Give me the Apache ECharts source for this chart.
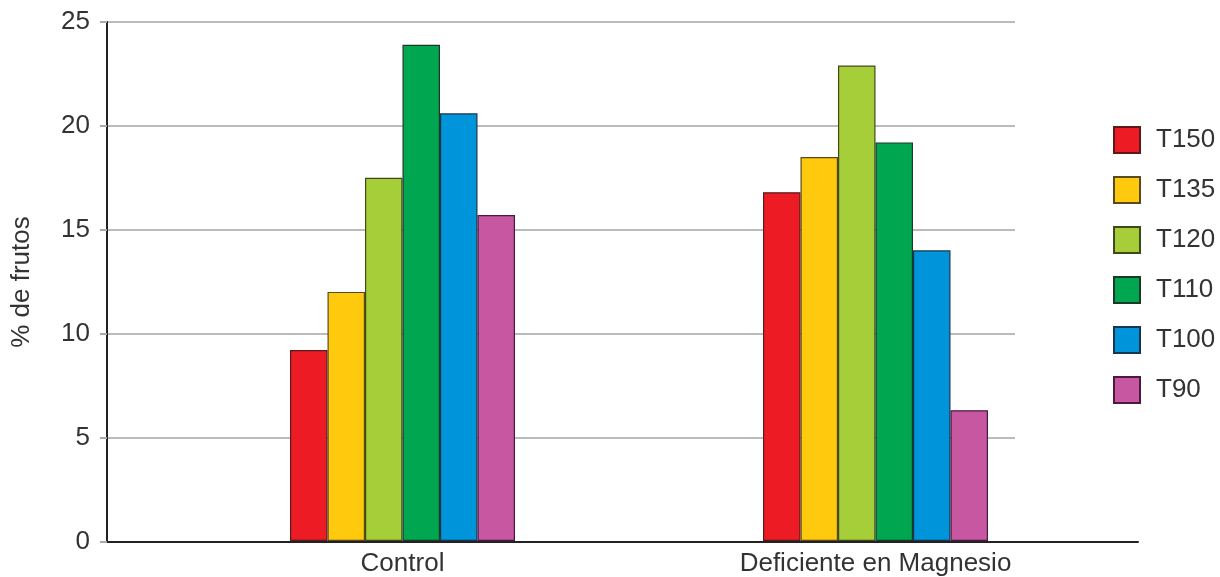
<!DOCTYPE html>
<html>
<head>
<meta charset="utf-8">
<script src="https://cdn.jsdelivr.net/npm/echarts@6/dist/echarts.min.js"></script>
<style>html,body{margin:0;padding:0;background:#fff}#c{width:1220px;height:577px}</style>
</head>
<body>
<div id="c"></div>
<script>
const categories = ['Control', 'Deficiente en Magnesio'];
const seriesNames = ['T150', 'T135', 'T120', 'T110', 'T100', 'T90'];
const T150 = [9.2, 16.8];
const T135 = [12.0, 18.5];
const T120 = [17.5, 22.9];
const T110 = [23.9, 19.2];
const T100 = [20.6, 14.0];
const T90 = [15.7, 6.3];
const yTicks = [0, 5, 10, 15, 20, 25];

const values = [T150, T135, T120, T110, T100, T90];
const colors = ['#ED1C24', '#FFC90E', '#A6CE39', '#00A650', '#0095DA', '#C657A0'];
const borders = ['#5a1a1a', '#5a4a1a', '#3e4a1a', '#1a3a25', '#1a3550', '#4a1a40'];
const font = 'Liberation Sans, Arial, sans-serif';

const chart = echarts.init(document.getElementById('c'), null, {renderer: 'canvas'});
const yMin = yTicks[0], yMax = yTicks[yTicks.length - 1];
const option = {
  animation: false,
  backgroundColor: '#fff',
  textStyle: {fontFamily: font},
  grid: [
    {left: 107, right: 205, top: 22, bottom: 35},
    {left: 107, right: 82, top: 22, bottom: 35},
    {left: 166, right: 108, top: 22, bottom: 35}
  ],
  legend: {
    orient: 'vertical',
    left: 1113,
    top: 126,
    padding: 0,
    itemWidth: 26,
    itemHeight: 26,
    itemGap: 22,
    icon: 'rect',
    textStyle: {fontSize: 26, lineHeight: 26, color: '#333', fontFamily: font, padding: [0, 0, 0, 11]},
    data: seriesNames
  },
  xAxis: [
    {gridIndex: 0, type: 'category', data: categories, show: false},
    {gridIndex: 1, type: 'category', data: categories, axisLine: {show: true, lineStyle: {color: '#222', width: 2}},
     axisTick: {show: false}, axisLabel: {show: false}},
    {gridIndex: 2, type: 'category', data: categories, axisLine: {show: false}, axisTick: {show: false},
     axisLabel: {fontSize: 26, color: '#333', margin: 10, fontFamily: font}}
  ],
  yAxis: [
    {gridIndex: 0, type: 'value', min: yMin, max: yMax, interval: 5,
     name: '% de frutos', nameLocation: 'middle', nameGap: 72, nameRotate: 90,
     nameTextStyle: {fontSize: 26, color: '#333', fontFamily: font},
     axisLine: {show: true, lineStyle: {color: '#222', width: 2}},
     axisTick: {show: true, length: 7, lineStyle: {color: '#aaa', width: 2}},
     axisLabel: {fontSize: 26, color: '#333', margin: 17, fontFamily: font},
     splitLine: {show: true, lineStyle: {color: '#bbb', width: 2}}},
    {gridIndex: 1, type: 'value', min: yMin, max: yMax, interval: 5, show: false},
    {gridIndex: 2, type: 'value', min: yMin, max: yMax, interval: 5, show: false}
  ],
  series: seriesNames.map((n, i) => ({
    name: n,
    type: 'bar',
    xAxisIndex: 2,
    yAxisIndex: 2,
    data: values[i],
    barWidth: 37.5,
    barGap: '0%',
    itemStyle: {color: colors[i], borderColor: borders[i], borderWidth: 1.2}
  }))
};
chart.setOption(option);
</script>
</body>
</html>
